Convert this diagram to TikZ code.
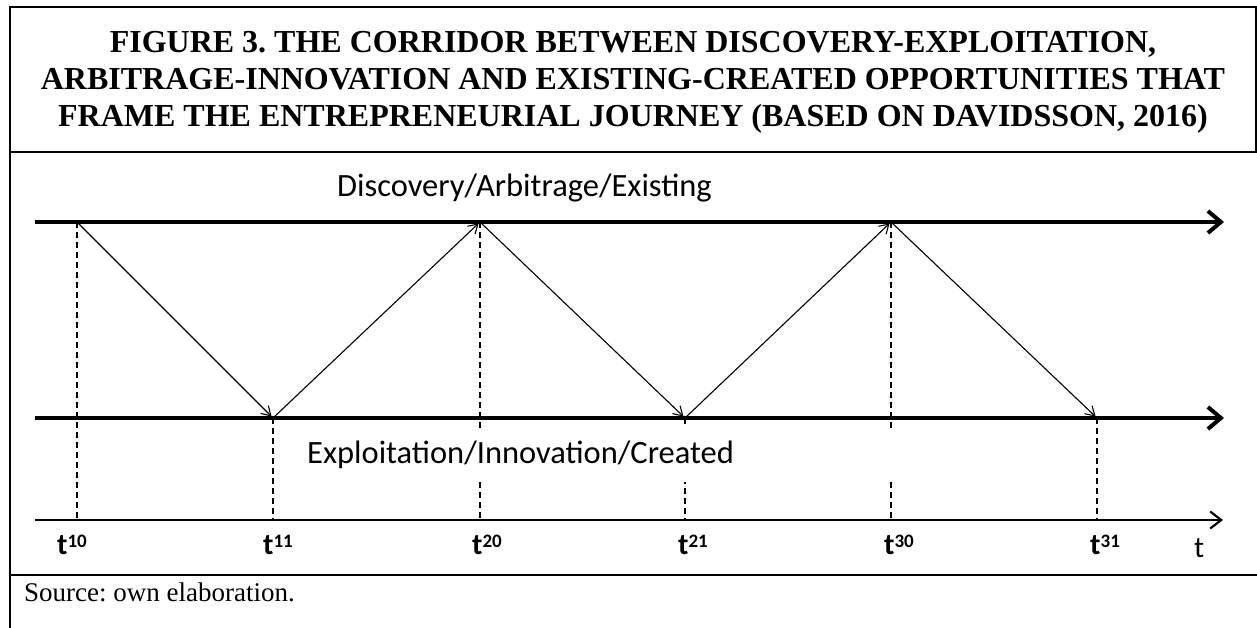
\documentclass[tikz,border=0pt]{standalone}
\usepackage{fontspec}
\setmainfont{Liberation Serif}
\newfontfamily\calib{Carlito}
\usetikzlibrary{arrows.meta}
\frenchspacing

% time mark with a raised two-digit index
\newcommand\timemark[1]{t\raisebox{7pt}{\fontsize{19}{19}\selectfont #1}}

\begin{document}
\begin{tikzpicture}[x=1pt,y=-1pt,
  frameline/.style={line width=2.6pt},
  mainaxis/.style={line width=4pt,-{Straight Barb[length=13pt,width=22pt]}},
  timeaxis/.style={line width=2.2pt,-{Straight Barb[length=11pt,width=17pt]}},
  move/.style={line width=1.1pt,-{Straight Barb[length=9pt,width=11pt]},shorten >=2pt},
  guide/.style={line width=1.2pt,dash pattern=on 6pt off 4pt},
  titletext/.style={font=\fontsize{32}{37}\selectfont\bfseries,anchor=base,inner sep=0pt},
  sidelabel/.style={font=\calib\fontsize{32.5}{38}\selectfont,inner sep=0pt,anchor=base west},
  ticklabel/.style={font=\calib\bfseries\fontsize{30}{36}\selectfont,inner sep=0pt,anchor=base west},
]
\useasboundingbox (0,0) rectangle (1257,628);

% table frame
\draw[frameline] (10,628) -- (10,7) -- (1256,7) -- (1256,152);
\draw[frameline] (10,152) -- (1257,152);
\draw[frameline] (10,575) -- (1257,575);

% title
\node[titletext] (title1) at (633,53) {FIGURE 3. THE CORRIDOR BETWEEN DISCOVERY-EXPLOITATION,};
\node[titletext] (title2) at (633,90) {ARBITRAGE-INNOVATION AND EXISTING-CREATED OPPORTUNITIES THAT};
\node[titletext] (title3) at (633,127) {FRAME THE ENTREPRENEURIAL JOURNEY (BASED ON DAVIDSSON, 2016)};

% axes end points
\coordinate (topL) at (35,222);  \coordinate (topR) at (1224,222);
\coordinate (midL) at (35,418);  \coordinate (midR) at (1224,418);
\coordinate (axL)  at (35,520);  \coordinate (axR)  at (1223,520);

% turning points and their feet on the time axis
\coordinate (p10) at (77,222);   \coordinate (f10) at (77,520);
\coordinate (p11) at (273,418);  \coordinate (f11) at (273,520);
\coordinate (p20) at (480,222);  \coordinate (f20) at (480,520);
\coordinate (p21) at (685,418);  \coordinate (f21) at (685,520);
\coordinate (p30) at (891,222);  \coordinate (f30) at (891,520);
\coordinate (p31) at (1097,418); \coordinate (f31) at (1097,520);

% dashed guides
\foreach \k in {10,11,20,21,30,31}
  \draw[guide] (p\k) -- (f\k);

% lower corridor label on a white box
\node[sidelabel,anchor=west,fill=white,text width=600pt,align=left,
      inner xsep=12pt,inner ysep=11pt,text height=24pt,text depth=8pt]
  (lower) at (295,455) {Exploitation/Innovation/Created};
\node[sidelabel] (upper) at (337,197) {Discovery/Arbitrage/Existing};

% corridor boundaries and time axis
\draw[mainaxis] (topL) -- (topR);
\draw[mainaxis] (midL) -- (midR);
\draw[timeaxis] (axL) -- (axR);

% zigzag journey
\draw[move] (p10) -- (p11);
\draw[move] (p11) -- (p20);
\draw[move] (p20) -- (p21);
\draw[move] (p21) -- (p30);
\draw[move] (p30) -- (p31);

% time marks
\node[ticklabel] (t10) at (57,554)   {\timemark{10}};
\node[ticklabel] (t11) at (263,554)  {\timemark{11}};
\node[ticklabel] (t20) at (472,554)  {\timemark{20}};
\node[ticklabel] (t21) at (678,554)  {\timemark{21}};
\node[ticklabel] (t30) at (884,554)  {\timemark{30}};
\node[ticklabel] (t31) at (1090,554) {\timemark{31}};
\node[sidelabel,font=\calib\fontsize{30}{36}\selectfont] (tvar) at (1194,557) {t};

% source line
\node[anchor=base west,inner sep=0pt,font=\fontsize{27}{31}\selectfont] (source) at (24,601) {Source: own elaboration.};
\end{tikzpicture}
\end{document}
